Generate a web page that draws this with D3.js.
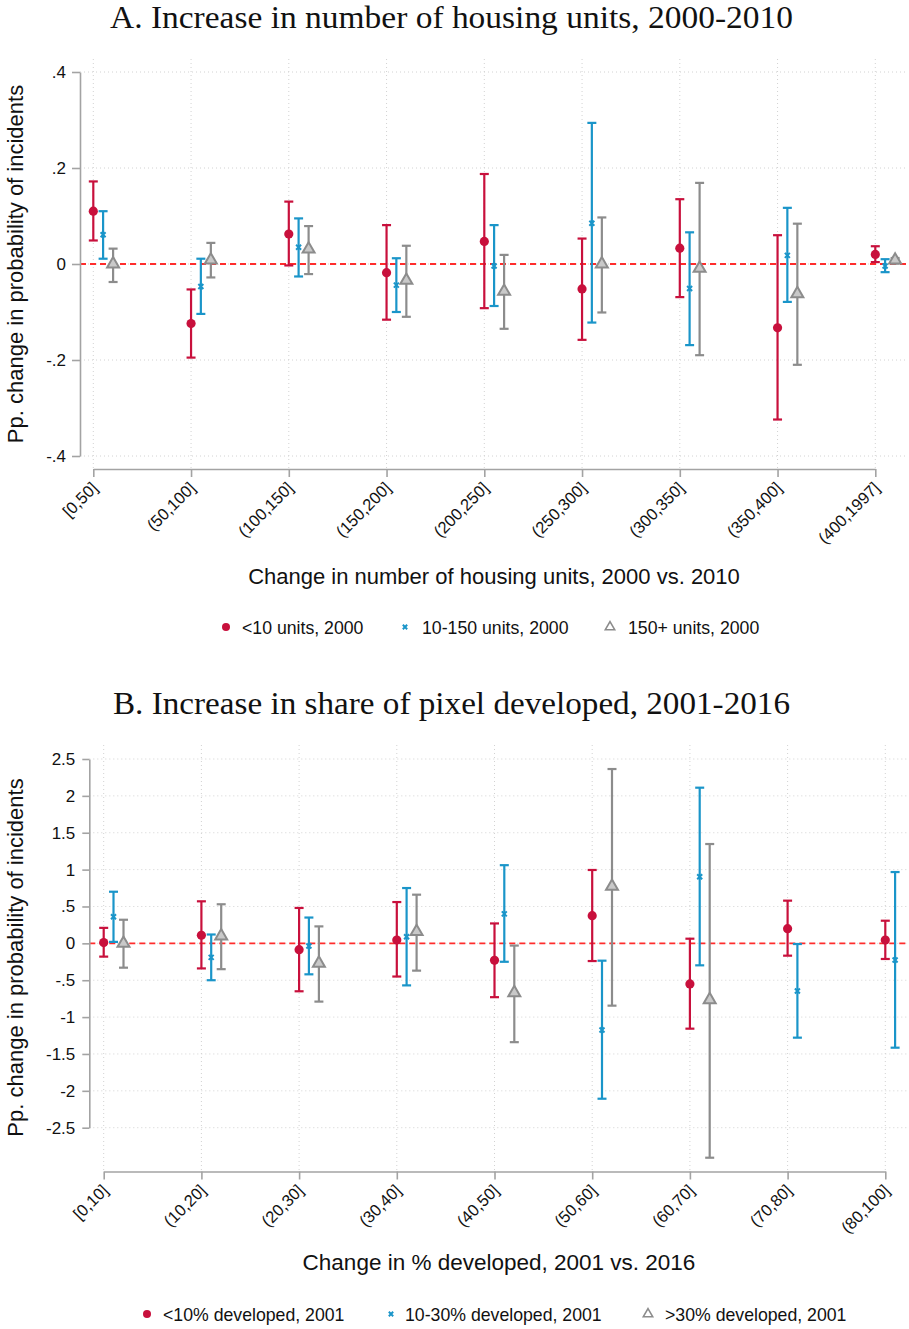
<!DOCTYPE html>
<html>
<head>
<meta charset="utf-8">
<script src="https://cdn.jsdelivr.net/npm/d3@7"></script>
<style>
  html, body { margin: 0; padding: 0; background: #fff; }
  svg text { font-family: "Liberation Sans", Arial, Helvetica, sans-serif; fill: #111; }
  svg text.ptitle { font-family: "Liberation Serif", "Times New Roman", serif; }
</style>
</head>
<body>
<svg id="chart" width="909" height="1329"></svg>
<script>
// ---------- Panel A: housing units ----------
const catsA = ["[0,50]", "(50,100]", "(100,150]", "(150,200]", "(200,250]",
               "(250,300]", "(300,350]", "(350,400]", "(400,1997]"];
// <10 units, 2000
const estA1 = [0.110, -0.124, 0.0625, -0.018, 0.047, -0.052, 0.033, -0.133, 0.020];
const loA1  = [0.049, -0.195, -0.003, -0.116, -0.092, -0.158, -0.069, -0.324, 0.004];
const hiA1  = [0.172, -0.053, 0.130, 0.081, 0.1875, 0.053, 0.135, 0.060, 0.037];
// 10-150 units, 2000
const estA2 = [0.061, -0.047, 0.035, -0.044, -0.004, 0.085, -0.051, 0.018, -0.004];
const loA2  = [0.011, -0.104, -0.026, -0.100, -0.0875, -0.122, -0.169, -0.079, -0.017];
const hiA2  = [0.110, 0.011, 0.095, 0.012, 0.081, 0.294, 0.066, 0.117, 0.010];
// 150+ units, 2000
const estA3 = [0.000, 0.008, 0.031, -0.034, -0.057, 0.000, -0.009, -0.062, 0.008];
const loA3  = [-0.0375, -0.028, -0.021, -0.110, -0.135, -0.101, -0.190, -0.210, 0.001];
const hiA3  = [0.032, 0.044, 0.079, 0.038, 0.019, 0.097, 0.169, 0.084, 0.0125];

const yTicksA  = [-0.4, -0.2, 0, 0.2, 0.4];
const yLabelsA = ["-.4", "-.2", "0", ".2", ".4"];
const legendA  = ["<10 units, 2000", "10-150 units, 2000", "150+ units, 2000"];
const titleA   = "A. Increase in number of housing units, 2000-2010";
const xTitleA  = "Change in number of housing units, 2000 vs. 2010";

// ---------- Panel B: share of pixel developed ----------
const catsB = ["[0,10]", "(10,20]", "(20,30]", "(30,40]", "(40,50]",
               "(50,60]", "(60,70]", "(70,80]", "(80,100]"];
// <10% developed, 2001
const estB1 = [0.01, 0.11, -0.086, 0.045, -0.23, 0.375, -0.55, 0.199, 0.045];
const loB1  = [-0.18, -0.34, -0.65, -0.45, -0.73, -0.24, -1.157, -0.167, -0.212];
const hiB1  = [0.21, 0.57, 0.48, 0.56, 0.27, 0.995, 0.063, 0.579, 0.307];
// 10-30% developed, 2001
const estB2 = [0.36, -0.19, -0.036, 0.09, 0.40, -1.175, 0.904, -0.646, -0.226];
const loB2  = [0.02, -0.50, -0.42, -0.57, -0.25, -2.107, -0.298, -1.279, -1.415];
const hiB2  = [0.70, 0.12, 0.35, 0.75, 1.06, -0.235, 2.111, -0.009, 0.967];
// >30% developed, 2001 (no estimate in the two top bins)
const estB3 = [0.0, 0.10, -0.27, 0.16, -0.67, 0.773, -0.764, null, null];
const loB3  = [-0.33, -0.35, -0.79, -0.37, -1.34, -0.845, -2.907, null, null];
const hiB3  = [0.32, 0.53, 0.23, 0.66, -0.03, 2.364, 1.347, null, null];

const yTicksB  = [-2.5, -2, -1.5, -1, -0.5, 0, 0.5, 1, 1.5, 2, 2.5];
const yLabelsB = ["-2.5", "-2", "-1.5", "-1", "-.5", "0", ".5", "1", "1.5", "2", "2.5"];
const legendB  = ["<10% developed, 2001", "10-30% developed, 2001", ">30% developed, 2001"];
const titleB   = "B. Increase in share of pixel developed, 2001-2016";
const xTitleB  = "Change in % developed, 2001 vs. 2016";

const yTitle = "Pp. change in probability of incidents";

// ---------- styling ----------
const RED = "#c8103c", BLUE = "#1a95c9", GRAY = "#8c8c8c";
const AXIS = "#a3a3a3", GRID = "#d2d2d2", ZERO = "#ff2d2d";
const styles = [
  { color: RED,  shape: "circle",   dx: 0 },
  { color: BLUE, shape: "x",        dx: 9.8 },
  { color: GRAY, shape: "triangle", dx: 19.8 }
];

const svg = d3.select("#chart");

function marker(g, shape, color, cx, cy, legend) {
  if (shape === "circle") {
    g.append("circle").attr("cx", cx).attr("cy", cy).attr("r", legend ? 4 : 4.6)
      .attr("fill", color);
  } else if (shape === "x") {
    g.append("path").attr("d", d3.symbol(d3.symbolX, legend ? 14 : 18)())
      .attr("transform", `translate(${cx},${cy})`)
      .attr("fill", "none").attr("stroke", color).attr("stroke-width", 2);
  } else {
    g.append("path").attr("d", d3.symbol(d3.symbolTriangle, legend ? 38 : 62)())
      .attr("transform", `translate(${cx},${cy})`)
      .attr("fill", legend ? "#fff" : "#c9c9c9").attr("stroke", color)
      .attr("stroke-width", legend ? 1.6 : 2);
  }
}

function drawPanel(cfg, L) {
  const g = svg.append("g");
  const x = d3.scalePoint().domain(cfg.cats).range([L.x0, L.x1]);
  const y = d3.scaleLinear().domain([cfg.yTicks[0], cfg.yTicks[cfg.yTicks.length - 1]])
    .range([L.yBot, L.yTop]);

  // grid
  g.append("g").selectAll("line").data(cfg.yTicks).join("line")
    .attr("x1", L.axisX).attr("x2", L.right)
    .attr("y1", d => y(d)).attr("y2", d => y(d))
    .attr("stroke", GRID).attr("stroke-width", 1).attr("stroke-dasharray", "1,3");
  g.append("g").selectAll("line").data(cfg.cats).join("line")
    .attr("x1", d => x(d)).attr("x2", d => x(d))
    .attr("y1", L.top).attr("y2", L.axisY)
    .attr("stroke", GRID).attr("stroke-width", 1).attr("stroke-dasharray", "1,3");

  // zero reference
  g.append("line").attr("x1", L.axisX).attr("x2", L.right)
    .attr("y1", y(0)).attr("y2", y(0))
    .attr("stroke", ZERO).attr("stroke-width", 1.8).attr("stroke-dasharray", "6,4");

  // y axis
  const yAx = g.append("g").attr("transform", `translate(${L.axisX},0)`)
    .call(d3.axisLeft(y).tickValues(cfg.yTicks).tickSize(L.ytick).tickSizeOuter(0)
      .tickPadding(L.ypad).tickFormat((d, i) => cfg.yLabels[i]));
  yAx.select(".domain").attr("stroke", AXIS).attr("stroke-width", 1.6);
  yAx.selectAll(".tick line").attr("stroke", AXIS).attr("stroke-width", 1.6);
  yAx.selectAll(".tick text").attr("font-size", 17).attr("fill", "#111");

  // x axis
  const xAx = g.append("g").attr("transform", `translate(0,${L.axisY})`)
    .call(d3.axisBottom(x).tickSize(8).tickSizeOuter(0));
  xAx.select(".domain").attr("stroke", AXIS).attr("stroke-width", 1.6);
  xAx.selectAll(".tick line").attr("stroke", AXIS).attr("stroke-width", 1.6);
  xAx.selectAll(".tick text").attr("font-size", 16.5).attr("fill", "#111")
    .attr("x", 0).attr("y", 0).attr("dy", 0)
    .attr("text-anchor", "end")
    .attr("transform", "translate(5,20) rotate(-45)");

  // error bars and point estimates
  cfg.series.forEach((s, si) => {
    const st = styles[si];
    const sg = g.append("g");
    cfg.cats.forEach((c, i) => {
      if (s.est[i] == null) return;
      const cx = x(c) + st.dx;
      sg.append("line").attr("x1", cx).attr("x2", cx)
        .attr("y1", y(s.lo[i])).attr("y2", y(s.hi[i]))
        .attr("stroke", st.color).attr("stroke-width", 2.2);
      [s.lo[i], s.hi[i]].forEach(v => {
        sg.append("line").attr("x1", cx - 4.5).attr("x2", cx + 4.5)
          .attr("y1", y(v)).attr("y2", y(v))
          .attr("stroke", st.color).attr("stroke-width", 2.2);
      });
      marker(sg, st.shape, st.color, cx, y(s.est[i]), false);
    });
  });

  // titles
  g.append("text").attr("class", "ptitle")
    .attr("x", L.titleCx).attr("y", L.titleY).attr("text-anchor", "middle")
    .attr("font-size", 31).attr("textLength", L.titleLen)
    .attr("lengthAdjust", "spacingAndGlyphs").text(cfg.title);
  g.append("text").attr("x", L.xTitleCx).attr("y", L.xTitleY)
    .attr("text-anchor", "middle").attr("font-size", L.xTitleSize).text(cfg.xTitle);
  g.append("text").attr("transform", `translate(${L.yTitleX},${L.yTitleCy}) rotate(-90)`)
    .attr("text-anchor", "middle").attr("font-size", 22).text(yTitle);

  // legend
  cfg.legend.forEach((lab, i) => {
    marker(g, styles[i].shape, styles[i].color, L.legMark[i], L.legY - 1, true);
    g.append("text").attr("x", L.legText[i]).attr("y", L.legY)
      .attr("dy", "0.35em").attr("font-size", 17.7).text(lab);
  });
}

drawPanel({
  cats: catsA, yTicks: yTicksA, yLabels: yLabelsA, legend: legendA,
  title: titleA, xTitle: xTitleA,
  series: [
    { est: estA1, lo: loA1, hi: hiA1 },
    { est: estA2, lo: loA2, hi: hiA2 },
    { est: estA3, lo: loA3, hi: hiA3 }
  ]
}, {
  top: 59, yTop: 72, yBot: 456, axisY: 469, axisX: 80, x0: 93.3, x1: 875.3, right: 907,
  ytick: 8, ypad: 6,
  titleY: 28, titleCx: 451.5, titleLen: 683,
  xTitleY: 584, xTitleCx: 494, xTitleSize: 22,
  yTitleX: 23, yTitleCy: 264,
  legY: 628, legMark: [226, 405, 610], legText: [242, 422, 628]
});

drawPanel({
  cats: catsB, yTicks: yTicksB, yLabels: yLabelsB, legend: legendB,
  title: titleB, xTitle: xTitleB,
  series: [
    { est: estB1, lo: loB1, hi: hiB1 },
    { est: estB2, lo: loB2, hi: hiB2 },
    { est: estB3, lo: loB3, hi: hiB3 }
  ]
}, {
  top: 745, yTop: 759, yBot: 1127.7, axisY: 1171.5, axisX: 89.3, x0: 103.7, x1: 885.3, right: 907,
  ytick: 7, ypad: 7,
  titleY: 714, titleCx: 451.5, titleLen: 677,
  xTitleY: 1270, xTitleCx: 499, xTitleSize: 22.5,
  yTitleX: 23, yTitleCy: 957.5,
  legY: 1315, legMark: [147, 391, 648], legText: [163, 405, 665]
});
</script>
</body>
</html>
